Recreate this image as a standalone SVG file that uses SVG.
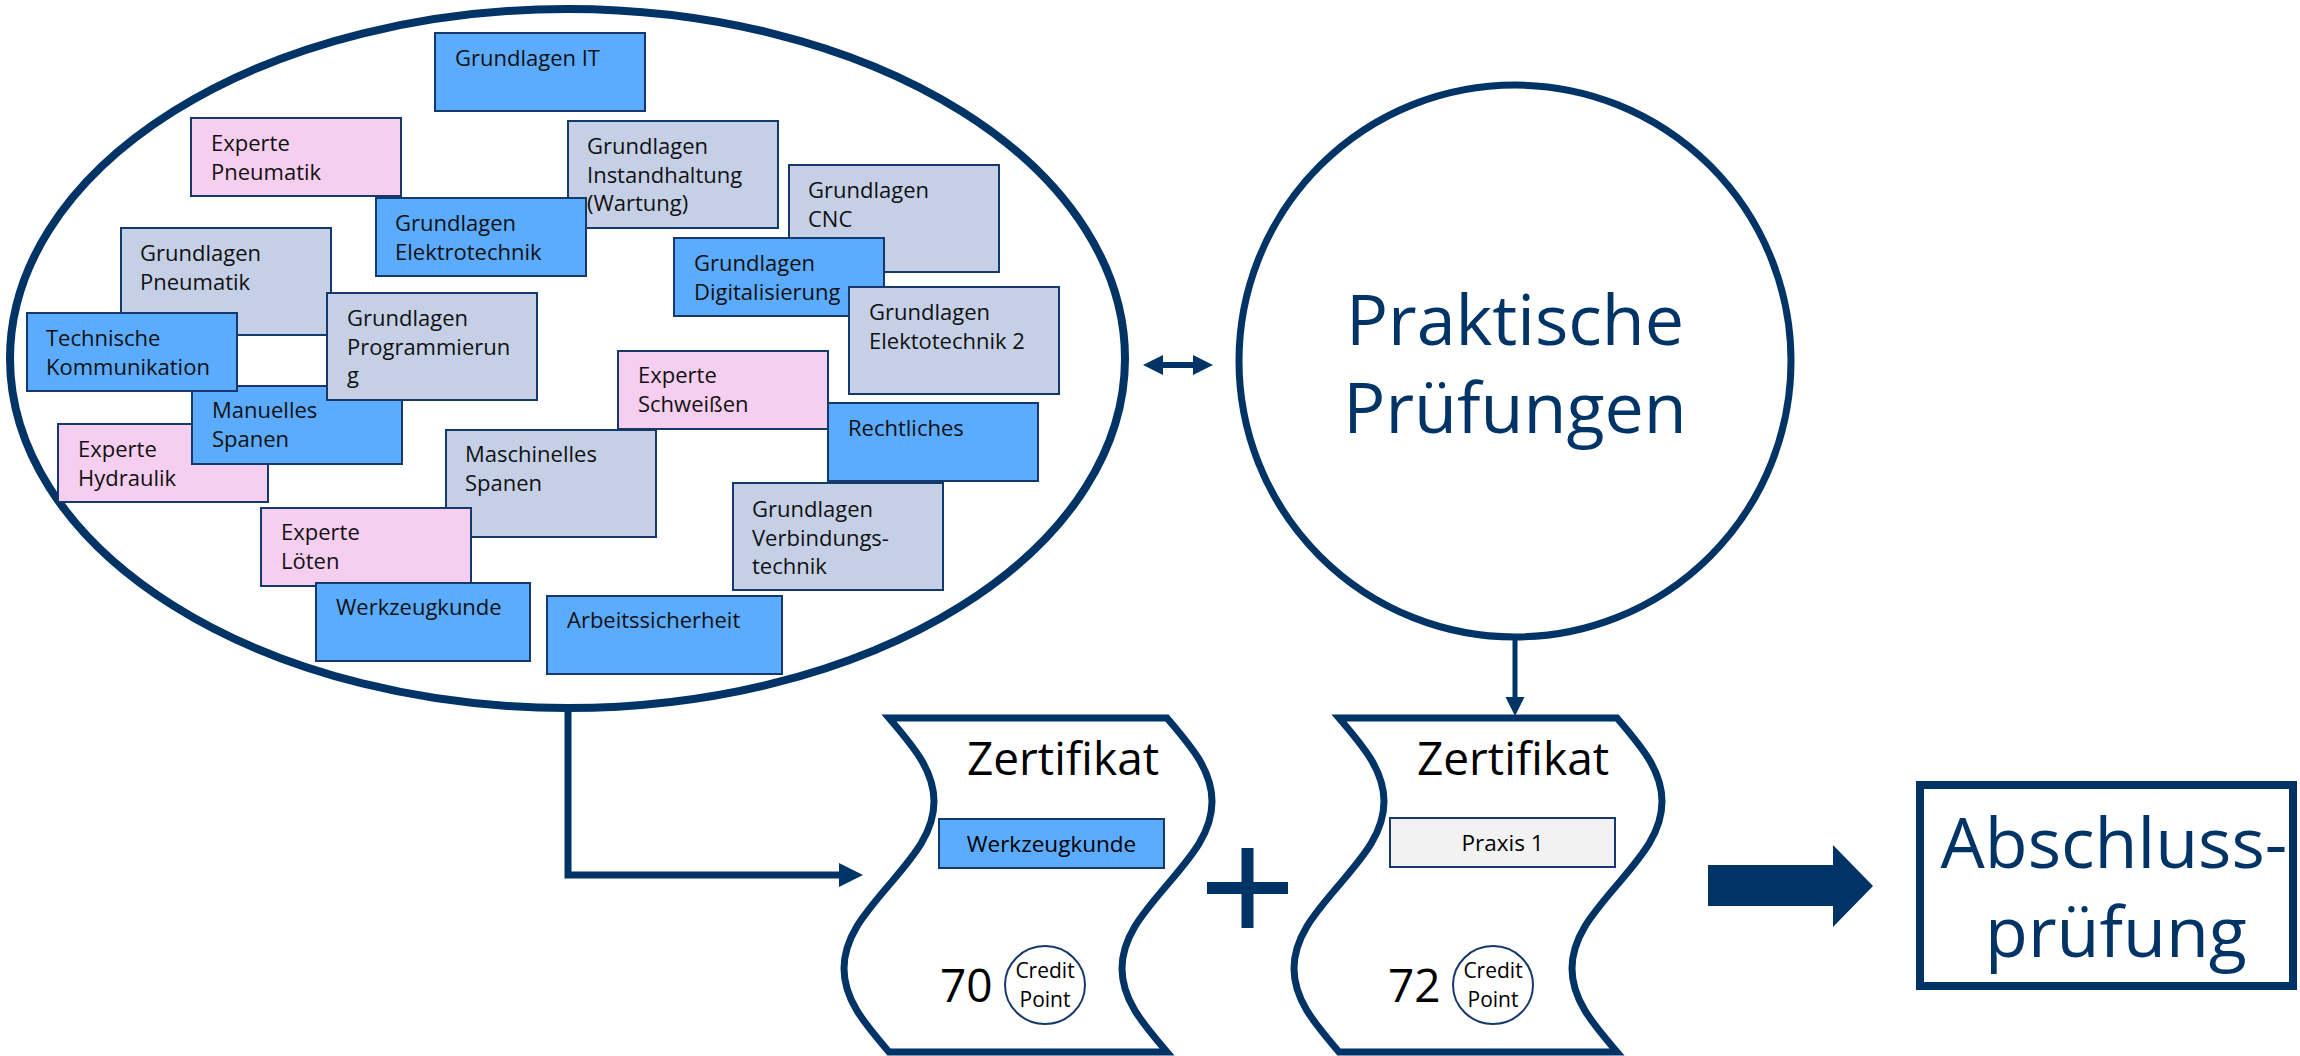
<svg xmlns="http://www.w3.org/2000/svg" xmlns:xlink="http://www.w3.org/1999/xlink" width="2300" height="1056" viewBox="0 0 2300 1056">
<style>
.bx{stroke:#15396b;stroke-width:2}
.blue{fill:#5BABFF}.gray{fill:#C5D0E7}.pink{fill:#F6CEF0}.light{fill:#F2F2F2}
.t{font-family:'Open Sans','Noto Sans',sans-serif;font-size:22px;fill:#111}
.big{font-family:'Open Sans','Noto Sans',sans-serif;font-size:70px;fill:#003366;text-anchor:middle}
.ct{font-family:'Open Sans','Noto Sans',sans-serif;fill:#000}
.navy{stroke:#003366;fill:none}
.nf{fill:#003366;stroke:none}
</style>
<defs>
<path id="cert" d="M0,0 H278 C301.4,27.6 323,51.6 323,83.5 S301.4,139.4 278,167 S233,218.6 233,250.5 S254.6,306.4 278,334 H0 C-23.4,306.4 -45,282.4 -45,250.5 S-23.4,194.6 0,167 S45,115.4 45,83.5 S23.4,27.6 0,0 Z"/>
</defs>
<rect width="2300" height="1056" fill="#fff"/>

<g id="connectors">
<path class="navy" d="M568,706 V875 H842" stroke-width="7" stroke-linejoin="miter"/>
<polygon class="nf" points="839,863 863,875 839,887"/>
<line class="navy" x1="1160" y1="365" x2="1196" y2="365" stroke-width="6"/>
<polygon class="nf" points="1143,365 1163,355 1163,375"/>
<polygon class="nf" points="1213,365 1193,355 1193,375"/>
<line class="navy" x1="1515" y1="640" x2="1515" y2="700" stroke-width="5"/>
<polygon class="nf" points="1505.5,697 1524.5,697 1515,716"/>
<polygon class="nf" points="1708,865 1833,865 1833,845 1873,886 1833,927 1833,906 1708,906"/>
</g>

<g id="modules">
<ellipse cx="567.5" cy="358.5" rx="557.5" ry="349.5" fill="#fff" stroke="#003366" stroke-width="8"/>
</g>

<g id="grundlagen-it"><rect class="bx blue" x="435" y="33" width="210" height="78"/><text class="t" x="455" y="66">Grundlagen IT</text></g>
<g id="experte-pneumatik"><rect class="bx pink" x="191" y="118" width="210" height="78"/><text class="t" x="211" y="151"><tspan x="211">Experte</tspan><tspan x="211" dy="28.5">Pneumatik</tspan></text></g>
<g id="grundlagen-instandhaltung"><rect class="bx gray" x="568" y="121" width="210" height="107"/><text class="t" x="587" y="154"><tspan x="587">Grundlagen</tspan><tspan x="587" dy="28.5">Instandhaltung</tspan><tspan x="587" dy="28.5">(Wartung)</tspan></text></g>
<g id="grundlagen-elektrotechnik"><rect class="bx blue" x="376" y="198" width="210" height="78"/><text class="t" x="395" y="231"><tspan x="395">Grundlagen</tspan><tspan x="395" dy="28.5">Elektrotechnik</tspan></text></g>
<g id="grundlagen-cnc"><rect class="bx gray" x="789" y="165" width="210" height="107"/><text class="t" x="808" y="198"><tspan x="808">Grundlagen</tspan><tspan x="808" dy="28.5">CNC</tspan></text></g>
<g id="grundlagen-digitalisierung"><rect class="bx blue" x="674" y="238" width="210" height="78"/><text class="t" x="694" y="271"><tspan x="694">Grundlagen</tspan><tspan x="694" dy="28.5">Digitalisierung</tspan></text></g>
<g id="grundlagen-elektotechnik-2"><rect class="bx gray" x="849" y="287" width="210" height="107"/><text class="t" x="869" y="320"><tspan x="869">Grundlagen</tspan><tspan x="869" dy="28.5">Elektotechnik 2</tspan></text></g>
<g id="grundlagen-pneumatik"><rect class="bx gray" x="121" y="228" width="210" height="107"/><text class="t" x="140" y="261"><tspan x="140">Grundlagen</tspan><tspan x="140" dy="28.5">Pneumatik</tspan></text></g>
<g id="experte-hydraulik"><rect class="bx pink" x="58" y="424" width="210" height="78"/><text class="t" x="78" y="457"><tspan x="78">Experte</tspan><tspan x="78" dy="28.5">Hydraulik</tspan></text></g>
<g id="manuelles-spanen"><rect class="bx blue" x="192" y="386" width="210" height="78"/><text class="t" x="212" y="418"><tspan x="212">Manuelles</tspan><tspan x="212" dy="28.5">Spanen</tspan></text></g>
<g id="technische-kommunikation"><rect class="bx blue" x="27" y="313" width="210" height="78"/><text class="t" x="46" y="346"><tspan x="46">Technische</tspan><tspan x="46" dy="28.5">Kommunikation</tspan></text></g>
<g id="grundlagen-programmierung"><rect class="bx gray" x="327" y="293" width="210" height="107"/><text class="t" x="347" y="326"><tspan x="347">Grundlagen</tspan><tspan x="347" dy="28.5">Programmierun</tspan><tspan x="347" dy="28.5">g</tspan></text></g>
<g id="experte-schweissen"><rect class="bx pink" x="618" y="351" width="210" height="78"/><text class="t" x="638" y="383"><tspan x="638">Experte</tspan><tspan x="638" dy="28.5">Schweißen</tspan></text></g>
<g id="rechtliches"><rect class="bx blue" x="828" y="403" width="210" height="78"/><text class="t" x="848" y="436">Rechtliches</text></g>
<g id="maschinelles-spanen"><rect class="bx gray" x="446" y="430" width="210" height="107"/><text class="t" x="465" y="462"><tspan x="465">Maschinelles</tspan><tspan x="465" dy="28.5">Spanen</tspan></text></g>
<g id="experte-loeten"><rect class="bx pink" x="261" y="508" width="210" height="78"/><text class="t" x="281" y="540"><tspan x="281">Experte</tspan><tspan x="281" dy="28.5">Löten</tspan></text></g>
<g id="werkzeugkunde"><rect class="bx blue" x="316" y="583" width="214" height="78"/><text class="t" x="336" y="615">Werkzeugkunde</text></g>
<g id="grundlagen-verbindungstechnik"><rect class="bx gray" x="733" y="483" width="210" height="107"/><text class="t" x="752" y="517"><tspan x="752">Grundlagen</tspan><tspan x="752" dy="28.5">Verbindungs-</tspan><tspan x="752" dy="28.5">technik</tspan></text></g>
<g id="arbeitssicherheit"><rect class="bx blue" x="547" y="596" width="235" height="78"/><text class="t" x="567" y="628">Arbeitssicherheit</text></g>

<g id="praktische-pruefungen">
<circle cx="1515" cy="361" r="276" fill="#fff" stroke="#003366" stroke-width="7"/>
<text class="big" x="1515" y="345">Praktische</text>
<text class="big" x="1515" y="433">Prüfungen</text>
</g>

<g id="zertifikat-1">
<use xlink:href="#cert" href="#cert" transform="translate(889,718)" fill="#fff" stroke="#003366" stroke-width="7"/>
<text class="ct" x="1063" y="775" font-size="46" text-anchor="middle">Zertifikat</text>
<rect class="bx blue" x="939" y="819" width="225" height="49"/>
<text class="ct" x="1051.5" y="852" font-size="22.5" text-anchor="middle">Werkzeugkunde</text>
<text class="ct" x="940" y="1002" font-size="46">70</text>
<ellipse cx="1045" cy="985" rx="40" ry="39" fill="#fff" stroke="#15396b" stroke-width="2"/>
<text class="ct" x="1045" y="978" font-size="21" text-anchor="middle">Credit</text>
<text class="ct" x="1045" y="1007" font-size="21" text-anchor="middle">Point</text>
</g>

<g id="plus">
<rect class="nf" x="1241.5" y="848" width="12" height="80"/>
<rect class="nf" x="1207" y="882" width="81" height="12"/>
</g>

<g id="zertifikat-2">
<use xlink:href="#cert" href="#cert" transform="translate(1339,718)" fill="#fff" stroke="#003366" stroke-width="7"/>
<text class="ct" x="1513" y="775" font-size="46" text-anchor="middle">Zertifikat</text>
<rect class="bx light" x="1390" y="818" width="225" height="49"/>
<text class="ct" x="1502.5" y="851" font-size="22.5" text-anchor="middle">Praxis 1</text>
<text class="ct" x="1388" y="1002" font-size="46">72</text>
<ellipse cx="1493" cy="985" rx="40" ry="39" fill="#fff" stroke="#15396b" stroke-width="2"/>
<text class="ct" x="1493" y="978" font-size="21" text-anchor="middle">Credit</text>
<text class="ct" x="1493" y="1007" font-size="21" text-anchor="middle">Point</text>
</g>

<g id="abschlusspruefung">
<rect x="1920" y="785" width="373" height="201" fill="#fff" stroke="#003366" stroke-width="8"/>
<text class="big" x="2114" y="868" font-size="71">Abschluss-</text>
<text class="big" x="2116" y="957" font-size="71">prüfung</text>
</g>
</svg>
